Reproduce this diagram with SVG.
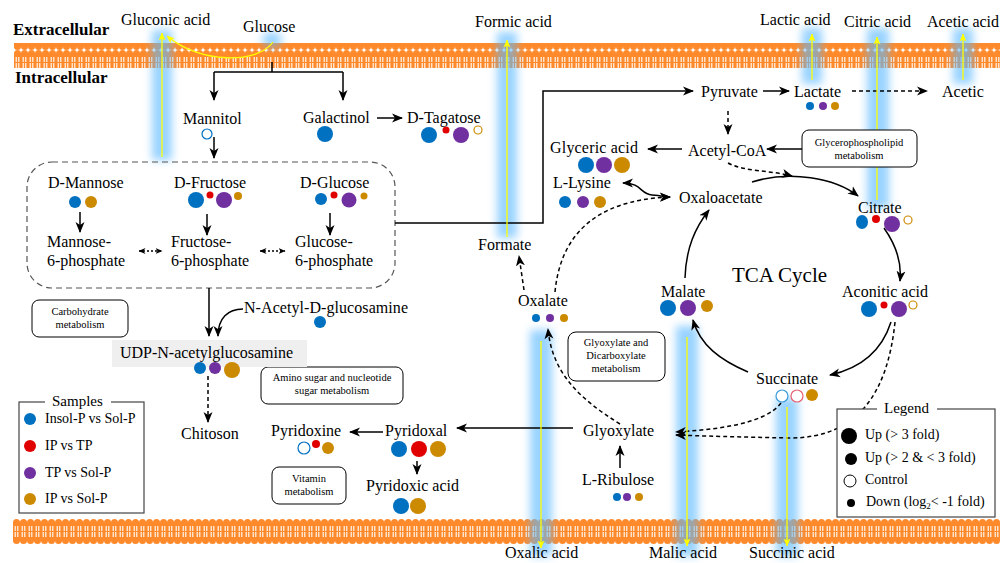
<svg xmlns="http://www.w3.org/2000/svg" width="1000" height="563" viewBox="0 0 1000 563">
<defs>
<style>
text{font-family:"Liberation Serif","Times New Roman",serif;fill:#000}
.t{font-size:16px}
.s{font-size:10.5px}
.lg{font-size:14px}
.b{font-size:17px;font-weight:bold}
.c{stroke:#000;stroke-width:1.5;fill:none}
.a{marker-end:url(#ah)}
.d{stroke-dasharray:4,3}
.dt{stroke-dasharray:2,2}
.box{fill:#fff;stroke:#000;stroke-width:1}
.y{stroke:#ffff00;stroke-width:1.3;fill:none;marker-end:url(#ya)}
.glow{fill:#5ab8ff;opacity:.62;filter:url(#bl)}
.B{fill:#0070c0}.R{fill:#e00000}.P{fill:#7030a0}.G{fill:#cc8a00}
</style>
<marker id="ah" markerUnits="userSpaceOnUse" markerWidth="11" markerHeight="11" refX="10" refY="5.5" orient="auto-start-reverse" viewBox="0 0 11 11"><path d="M0,1 L11,5.5 L0,10 L3,5.5z" fill="#000"/></marker>
<marker id="ah2" markerUnits="userSpaceOnUse" markerWidth="7" markerHeight="7" refX="6.5" refY="3.5" orient="auto-start-reverse" viewBox="0 0 7 7"><path d="M0,0.5 L7,3.5 L0,6.5 L2,3.5z" fill="#000"/></marker>
<marker id="ya" markerUnits="userSpaceOnUse" markerWidth="8" markerHeight="8" refX="7.5" refY="4" orient="auto" viewBox="0 0 8 8"><path d="M0,0.5 L8,4 L0,7.5 L2,4z" fill="#ffff00"/></marker>
<filter id="bl" x="-150%" y="-30%" width="400%" height="160%"><feGaussianBlur stdDeviation="4"/></filter>
<pattern id="mem" patternUnits="userSpaceOnUse" width="7" height="25">
<rect y="3" width="7" height="19" fill="#ff8a2b"/>
<circle cx="3.5" cy="3.5" r="3.5" fill="#ff8a2b"/>
<circle cx="3.5" cy="21.5" r="3.5" fill="#ff8a2b"/>
<path d="M2.2,7v5M2.2,13v5M4.8,7v5M4.8,13v5" stroke="#fff" stroke-width="1.1"/>
</pattern>
</defs>
<rect width="1000" height="563" fill="#fff"/>

<g id="membranes">
<rect x="14" y="43" width="986" height="25" fill="url(#mem)"/>
<g transform="translate(13,519)"><rect x="0" y="0" width="987" height="25" fill="url(#mem)"/></g>
</g>

<g id="glows">
<rect class="glow" x="152" y="30" width="20" height="130"/>
<ellipse class="glow" cx="272" cy="40" rx="10" ry="8"/>
<rect class="glow" x="497" y="32" width="20" height="206"/>
<rect class="glow" x="802" y="28" width="20" height="56"/>
<rect class="glow" x="867" y="28" width="22" height="180"/>
<rect class="glow" x="953" y="28" width="20" height="56"/>
<rect class="glow" x="530" y="330" width="22" height="226"/>
<rect class="glow" x="676" y="326" width="22" height="230"/>
<rect class="glow" x="776" y="398" width="22" height="158"/>
</g>

<g id="labels-static">
<text class="b" x="13" y="35">Extracellular</text>
<text class="b" x="15" y="83">Intracellular</text>
<text class="t" x="121" y="25">Gluconic acid</text>
<text class="t" x="243" y="32">Glucose</text>
<text class="t" x="475" y="27">Formic acid</text>
<text class="t" x="760" y="25">Lactic acid</text>
<text class="t" x="844" y="27">Citric acid</text>
<text class="t" x="927" y="27" textLength="72">Acetic acid</text>
<text class="t" x="505" y="558">Oxalic acid</text>
<text class="t" x="649" y="558">Malic acid</text>
<text class="t" x="749" y="558">Succinic acid</text>
<text x="732" y="282" style="font-size:21px">TCA Cycle</text>
</g>

<g id="dashed-box">
<rect x="27" y="162" width="368" height="126" rx="25" fill="none" stroke="#555" stroke-width="1.2" stroke-dasharray="6,4"/>
</g>

<g id="connectors">
<path class="c" d="M272,62 V72 M214,72 H343"/>
<path class="c a" d="M214,72 V100"/>
<path class="c a" d="M343,72 V100"/>
<path class="c a" d="M214,137 V158"/>
<path class="c a" d="M377,118 H402"/>
<path class="c a" d="M395,223 H543 V91 H693"/>
<path class="c a" d="M763,91 H789"/>
<path class="c d a" d="M852,91 H927"/>
<path class="c d a" d="M728,111 V134"/>
<path class="c a" d="M682,149 H648"/>
<path class="c a" d="M802,149 H767"/>
<path class="c a" d="M623,183 C642,183 640,194 652,195 S665,197 670,197" marker-start="url(#ah)"/>
<path class="c d a" d="M555,292 C560,240 590,200 670,197"/>
<path class="c d a" d="M524,290 L519,256"/>
<path class="c d a" d="M620,424 C578,398 552,372 548,329"/>
<path class="c a" d="M573,428 H457"/>
<path class="c a" d="M383,432 H350"/>
<path class="c a" d="M417,461 V474"/>
<path class="c a" d="M620,468 V446"/>
<path class="c a" d="M752,182 C790,170 835,178 858,196"/>
<path class="c d a" d="M728,163 C745,172 770,170 792,176"/>
<path class="c a" d="M884,228 C896,245 902,262 900,281"/>
<path class="c a" d="M891,322 C882,350 862,368 830,375"/>
<path class="c d a" d="M895,322 C888,390 860,438 790,438 C740,437 700,436 676,435"/>
<path class="c d a" d="M781,403 C765,425 710,430 676,432"/>
<path class="c a" d="M748,372 C720,360 700,345 693,320"/>
<path class="c a" d="M685,278 C686,248 695,228 709,210"/>
<path class="c a" d="M209,288 V336"/>
<path class="c a" d="M243,309 C228,309 218,318 218,336"/>
<path class="c d a" d="M208,376 V422"/>
<path class="c a" d="M80,212 V232"/>
<path class="c a" d="M207,214 V235"/>
<path class="c a" d="M330,213 V235"/>
<path class="c dt" d="M139,251 H162" marker-start="url(#ah2)" marker-end="url(#ah2)"/>
<path class="c dt" d="M260,251 H285" marker-start="url(#ah2)" marker-end="url(#ah2)"/>
</g>

<g id="transport">
<path class="y" d="M162,157 V33"/>
<path class="y" d="M273,42 C258,64 200,64 167,36"/>
<path class="y" d="M507,237 V40"/>
<path class="y" d="M812,80 V34"/>
<path class="y" d="M877,200 V37"/>
<path class="y" d="M963,80 V34"/>
<path class="y" d="M541,341 V548"/>
<path class="y" d="M687,337 V546"/>
<path class="y" d="M787,407 V546"/>
</g>

<g id="mannitol"><text class="t" x="183" y="124">Mannitol</text><circle cx="207" cy="134" r="5" fill="#fff" stroke="#0070c0" stroke-width="1.2"/></g>
<g id="galactinol"><text class="t" x="303" y="123">Galactinol</text><circle class="B" cx="325" cy="134" r="8"/></g>
<g id="d-tagatose"><text class="t" x="407" y="123">D-Tagatose</text><circle class="B" cx="429" cy="135" r="8"/><circle class="R" cx="446" cy="130" r="3.5"/><circle class="P" cx="461" cy="135" r="8"/><circle cx="478" cy="130" r="4" fill="#fff" stroke="#cc8a00" stroke-width="1.2"/></g>

<g id="d-mannose"><text class="t" x="48" y="188">D-Mannose</text><circle class="B" cx="75" cy="202" r="6"/><circle class="G" cx="91" cy="202" r="6"/></g>
<g id="d-fructose"><text class="t" x="174" y="188">D-Fructose</text><circle class="B" cx="196" cy="200" r="8"/><circle class="R" cx="210" cy="195" r="3.5"/><circle class="P" cx="224" cy="200" r="8"/><circle class="G" cx="238" cy="196" r="4"/></g>
<g id="d-glucose"><text class="t" x="300" y="188">D-Glucose</text><circle class="B" cx="321" cy="199" r="6"/><circle class="R" cx="334" cy="195" r="3.5"/><circle class="P" cx="349" cy="200" r="7.5"/><circle class="G" cx="364" cy="196" r="3.5"/></g>
<g id="mannose-6p"><text class="t" x="47" y="247">Mannose-</text><text class="t" x="47" y="266">6-phosphate</text></g>
<g id="fructose-6p"><text class="t" x="171" y="247">Fructose-</text><text class="t" x="171" y="266">6-phosphate</text></g>
<g id="glucose-6p"><text class="t" x="295" y="247">Glucose-</text><text class="t" x="295" y="266">6-phosphate</text></g>

<g id="pyruvate"><text class="t" x="701" y="97">Pyruvate</text></g>
<g id="lactate"><text class="t" x="794" y="97">Lactate</text><circle class="B" cx="810" cy="106" r="4"/><circle class="P" cx="823" cy="106" r="4"/><circle class="G" cx="835" cy="106" r="4"/></g>
<g id="acetic"><text class="t" x="942" y="97">Acetic</text></g>
<g id="acetyl-coa"><text class="t" x="688" y="156">Acetyl-CoA</text></g>
<g id="glycerophospholipid"><rect class="box" x="802" y="130" width="115" height="37" rx="7"/><text class="s" x="859" y="146" text-anchor="middle">Glycerophospholipid</text><text class="s" x="859" y="159" text-anchor="middle">metabolism</text></g>
<g id="glyceric-acid"><text class="t" x="550" y="153" textLength="88">Glyceric acid</text><circle class="B" cx="586" cy="165" r="8"/><circle class="P" cx="604" cy="165" r="8"/><circle class="G" cx="622" cy="165" r="8"/></g>
<g id="l-lysine"><text class="t" x="553" y="188">L-Lysine</text><circle class="B" cx="565" cy="202" r="6"/><circle class="P" cx="583" cy="202" r="6"/><circle class="G" cx="600" cy="202" r="6"/></g>
<g id="oxaloacetate"><text class="t" x="679" y="203">Oxaloacetate</text></g>
<g id="formate"><text class="t" x="478" y="250">Formate</text></g>
<g id="oxalate"><text class="t" x="518" y="306">Oxalate</text><circle class="B" cx="536" cy="318" r="4"/><circle class="P" cx="550" cy="318" r="4"/><circle class="G" cx="564" cy="318" r="4"/></g>
<g id="citrate"><text class="t" x="858" y="213">Citrate</text><ellipse class="B" cx="862" cy="222" rx="6" ry="7"/><circle class="R" cx="876" cy="219" r="4"/><circle class="P" cx="892" cy="224" r="8"/><circle cx="908" cy="220" r="4" fill="#fff" stroke="#cc8a00" stroke-width="1.2"/></g>
<g id="aconitic-acid"><text class="t" x="842" y="297" textLength="86">Aconitic acid</text><circle class="B" cx="869" cy="309" r="8"/><circle class="R" cx="884" cy="305" r="3.5"/><circle class="P" cx="899" cy="309" r="8"/><circle cx="913" cy="305" r="4" fill="#fff" stroke="#cc8a00" stroke-width="1.2"/></g>
<g id="malate"><text class="t" x="661" y="297">Malate</text><circle class="B" cx="668" cy="308" r="8"/><circle class="P" cx="688" cy="308" r="8"/><circle class="G" cx="707" cy="306" r="6"/></g>
<g id="succinate"><text class="t" x="756" y="384">Succinate</text><circle cx="782" cy="396" r="6" fill="#fff" stroke="#3a9ad9" stroke-width="1.2"/><circle cx="797" cy="396" r="6" fill="#fff" stroke="#e86070" stroke-width="1.2"/><circle class="G" cx="812" cy="395" r="6"/></g>
<g id="glyoxylate-box"><rect class="box" x="568" y="332" width="97" height="49" rx="8"/><text class="s" x="616" y="346" text-anchor="middle">Glyoxylate  and</text><text class="s" x="616" y="359" text-anchor="middle">Dicarboxylate</text><text class="s" x="616" y="372" text-anchor="middle">metabolism</text></g>
<g id="glyoxylate"><text class="t" x="583" y="436">Glyoxylate</text></g>
<g id="l-ribulose"><text class="t" x="582" y="485">L-Ribulose</text><circle class="B" cx="617" cy="497" r="4"/><circle class="P" cx="627" cy="497" r="4"/><circle class="G" cx="639" cy="497" r="4"/></g>
<g id="pyridoxal"><text class="t" x="385" y="436">Pyridoxal</text><circle class="B" cx="399" cy="449" r="8"/><circle class="R" cx="419" cy="449" r="8"/><circle class="G" cx="438" cy="449" r="8"/></g>
<g id="pyridoxine"><text class="t" x="271" y="436">Pyridoxine</text><circle cx="304" cy="448" r="6" fill="#fff" stroke="#0070c0" stroke-width="1.2"/><circle class="R" cx="316" cy="444" r="4"/><circle class="G" cx="328" cy="448" r="6"/></g>
<g id="pyridoxic-acid"><text class="t" x="366" y="491" textLength="93">Pyridoxic acid</text><circle class="B" cx="401" cy="506" r="8"/><circle class="G" cx="418" cy="506" r="8"/></g>
<g id="vitamin-box"><rect class="box" x="272" y="467" width="74" height="37" rx="7"/><text class="s" x="309" y="482" text-anchor="middle">Vitamin</text><text class="s" x="309" y="495" text-anchor="middle">metabolism</text></g>
<g id="amino-sugar-box"><rect class="box" x="261" y="367" width="142" height="37" rx="7"/><text class="s" x="332" y="381" text-anchor="middle">Amino  sugar and nucleotide</text><text class="s" x="332" y="394" text-anchor="middle">sugar metabolism</text></g>
<g id="carbohydrate-box"><rect class="box" x="32" y="300" width="96" height="37" rx="7"/><text class="s" x="80" y="315" text-anchor="middle">Carbohydrate</text><text class="s" x="80" y="328" text-anchor="middle">metabolism</text></g>
<g id="n-acetyl-d-glucosamine"><text class="t" x="244" y="313" textLength="164">N-Acetyl-D-glucosamine</text><circle class="B" cx="320" cy="322" r="6"/></g>
<g id="udp-n-acetylglucosamine"><rect x="112" y="340" width="195" height="27" fill="#efefef"/><text class="t" x="120" y="358" textLength="173">UDP-N-acetylglucosamine</text><circle class="B" cx="200" cy="368" r="6"/><circle class="P" cx="215" cy="368" r="6"/><circle class="G" cx="232" cy="370" r="8"/></g>
<g id="chitoson"><text class="t" x="181" y="439">Chitoson</text></g>

<g id="samples-legend">
<rect x="19" y="402" width="125" height="111" fill="#fff" stroke="#444" stroke-width="1.2"/>
<rect x="45" y="394" width="66" height="14" fill="#fff"/>
<text x="52" y="406" style="font-size:15px">Samples</text>
<circle class="B" cx="30" cy="419" r="6"/><text class="lg" x="45" y="423">Insol-P vs Sol-P</text>
<circle class="R" cx="30" cy="446" r="6"/><text class="lg" x="45" y="450">IP vs TP</text>
<circle class="P" cx="30" cy="473" r="6"/><text class="lg" x="45" y="477">TP vs Sol-P</text>
<circle class="G" cx="30" cy="499" r="6"/><text class="lg" x="45" y="503">IP vs Sol-P</text>
</g>

<g id="legend">
<rect x="837" y="409" width="158" height="108" fill="#fff" stroke="#444" stroke-width="1.2"/>
<rect x="877" y="400" width="60" height="16" fill="#fff"/>
<text x="884" y="413" style="font-size:15px">Legend</text>
<circle cx="849" cy="436" r="8" fill="#000"/><text class="lg" x="865" y="439">Up (&gt; 3 fold)</text>
<circle cx="851" cy="459" r="6" fill="#000"/><text class="lg" x="865" y="462">Up (&gt; 2 &amp; &lt; 3 fold)</text>
<circle cx="850" cy="481" r="6" fill="#fff" stroke="#000" stroke-width="1"/><text class="lg" x="865" y="484">Control</text>
<circle cx="851" cy="503" r="4" fill="#000"/><text class="lg" x="866" y="506">Down (log<tspan style="font-size:9px" dy="3">2</tspan><tspan dy="-3">&lt; -1 fold)</tspan></text>
</g>
</svg>
